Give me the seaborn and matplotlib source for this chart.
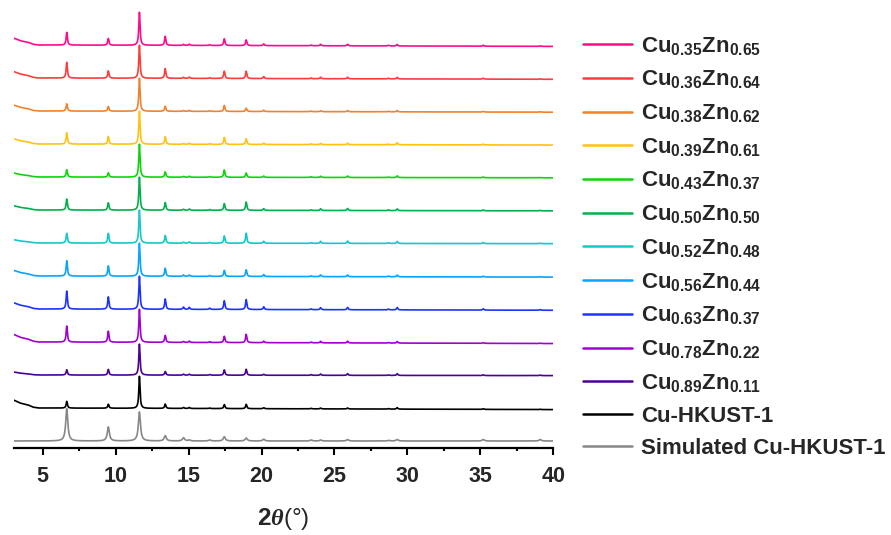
import numpy as np
import pandas as pd
import matplotlib
matplotlib.use("Agg")
import matplotlib.pyplot as plt
import seaborn as sns

# ---------------- data ----------------
labels = [
    r"$\mathbf{Cu_{0.35}Zn_{0.65}}$", r"$\mathbf{Cu_{0.36}Zn_{0.64}}$",
    r"$\mathbf{Cu_{0.38}Zn_{0.62}}$", r"$\mathbf{Cu_{0.39}Zn_{0.61}}$",
    r"$\mathbf{Cu_{0.43}Zn_{0.37}}$", r"$\mathbf{Cu_{0.50}Zn_{0.50}}$",
    r"$\mathbf{Cu_{0.52}Zn_{0.48}}$", r"$\mathbf{Cu_{0.56}Zn_{0.44}}$",
    r"$\mathbf{Cu_{0.63}Zn_{0.37}}$", r"$\mathbf{Cu_{0.78}Zn_{0.22}}$",
    r"$\mathbf{Cu_{0.89}Zn_{0.11}}$", "Cu-HKUST-1", "Simulated Cu-HKUST-1",
]
colors = ["#FF0A8C", "#FF3C3C", "#F0822D", "#FFC30F", "#0AD70A", "#00B04B",
          "#14C8C8", "#05A5FF", "#1E32FF", "#A000D2", "#4B0096", "#000000", "#878787"]

# peak positions (2theta, deg)
peak_pos = [6.65, 9.5, 11.63, 13.4, 14.65, 15.05, 16.45, 17.45, 18.95, 20.15,
            23.4, 24.05, 25.9, 28.7, 29.3, 35.2, 39.1]

# peak intensities (arb. units; 33 = one stacking step)
pk_035 = [12.7, 6.7, 33, 9.0, 1.0, 1.3, 0.7, 6.7, 5.7, 1.7, 0.7, 1.5, 1.5, 0.7, 1.5, 1.0, 0.5]
pk_036 = [15.7, 7.3, 33, 9.7, 1.0, 1.3, 0.7, 7.3, 7.3, 2.0, 0.7, 1.5, 1.5, 0.7, 1.5, 1.0, 0.5]
pk_038 = [7.3, 4.7, 33, 5.0, 0.8, 1.0, 0.7, 6.0, 3.3, 1.3, 0.5, 1.0, 1.2, 0.5, 1.3, 0.7, 0.5]
pk_039 = [11.3, 7.7, 33, 7.7, 0.8, 1.2, 0.7, 7.0, 5.7, 1.3, 0.7, 1.2, 1.5, 0.7, 2.0, 0.8, 0.5]
pk_043 = [7.3, 4.3, 33, 5.3, 0.8, 1.0, 0.7, 7.3, 4.3, 1.3, 0.7, 1.2, 1.5, 0.5, 1.7, 0.7, 0.3]
pk_050 = [11.0, 7.3, 33, 7.7, 1.0, 1.3, 0.7, 6.7, 8.3, 1.7, 0.7, 1.7, 2.0, 0.7, 1.7, 0.8, 0.5]
pk_052 = [9.7, 9.7, 33, 7.7, 1.0, 1.3, 0.8, 7.3, 10.0, 2.0, 0.7, 2.0, 2.3, 0.7, 2.0, 1.0, 0.5]
pk_056 = [15.3, 10.3, 33, 8.0, 1.3, 1.3, 0.8, 6.0, 6.7, 2.0, 0.7, 1.7, 1.7, 0.7, 1.7, 0.8, 0.5]
pk_063 = [18.0, 12.3, 33, 10.3, 2.3, 2.0, 1.3, 8.7, 10.0, 2.7, 0.8, 2.0, 2.3, 0.8, 2.3, 1.3, 0.7]
pk_078 = [16.0, 11.0, 33, 7.0, 1.0, 1.3, 0.8, 6.3, 8.3, 1.5, 0.7, 1.5, 1.7, 0.5, 1.5, 0.7, 0.3]
pk_089 = [5.3, 5.7, 31, 3.7, 1.0, 1.0, 0.7, 5.3, 6.0, 1.0, 0.7, 1.3, 1.7, 0.5, 1.7, 0.7, 0.5]
pk_hkust = [6.7, 4.0, 32, 4.3, 1.0, 1.0, 0.5, 4.0, 4.3, 1.0, 0.5, 0.8, 1.0, 0.5, 1.5, 0.7, 0.3]
pk_sim = [32.3, 14.0, 29, 5.3, 3.3, 1.0, 1.0, 4.3, 3.0, 1.7, 1.0, 1.0, 1.5, 0.5, 1.5, 1.5, 1.5]
peak_tables = [pk_035, pk_036, pk_038, pk_039, pk_043, pk_050, pk_052, pk_056,
               pk_063, pk_078, pk_089, pk_hkust, pk_sim]

# low-angle background shoulder of the measured patterns
bg_x = [3.0, 3.45, 4.0, 4.35, 4.7, 40.0]
bg_shape = [1.0, 0.62, 0.38, 0.10, 0.0, -0.2]
bg_start = [7.0, 6.5, 6.0, 5.3, 4.0, 4.3, 3.3, 5.7, 6.3, 7.7, 3.0, 8.0, 0.0]

STEP = 33.0
xgrid = np.arange(3.0, 40.001, 0.01)

frames = []
n = len(labels)
for i, (lab, pk, b0) in enumerate(zip(labels, peak_tables, bg_start)):
    offset = n - 1 - i
    hw = 0.085 if i == n - 1 else 0.05
    y = np.interp(xgrid, bg_x, np.array(bg_shape) * b0)
    for c, h in zip(peak_pos, pk):
        y = y + h / (1.0 + ((xgrid - c) / hw) ** 2)
    frames.append(pd.DataFrame({"two_theta": xgrid, "intensity": offset + y / STEP,
                                "sample": lab}))
df = pd.concat(frames, ignore_index=True)

# ---------------- plotting ----------------
sns.set_style("white")
plt.rcParams["font.family"] = ["Liberation Sans", "DejaVu Sans"]
plt.rcParams["mathtext.fontset"] = "custom"
plt.rcParams["mathtext.rm"] = "Liberation Sans"
plt.rcParams["mathtext.bf"] = "Liberation Sans:bold"
plt.rcParams["mathtext.it"] = "Liberation Serif:italic:bold"

fig = plt.figure(figsize=(8.91, 5.35), dpi=100)
ax = fig.add_axes([13.5 / 891, 87 / 535, 539.8 / 891, 438 / 535])

for lab, col in zip(labels, colors):
    sub = df[df["sample"] == lab]
    sns.lineplot(data=sub, x="two_theta", y="intensity", color=col, lw=1.2,
                 label=lab, ax=ax, sort=False, estimator=None)

ax.set_xlim(3, 40)
ax.set_ylim(-7 / STEP, 431 / STEP)
ax.set_yticks([])
ax.set_ylabel("")
for s in ["left", "right", "top"]:
    ax.spines[s].set_visible(False)
ax.spines["bottom"].set_linewidth(1.6)
ax.spines["bottom"].set_color("black")
ax.set_xticks([5, 10, 15, 20, 25, 30, 35, 40])
ax.set_xticks([7.5, 12.5, 17.5, 22.5, 27.5, 32.5, 37.5], minor=True)
ax.tick_params(axis="x", which="major", direction="out", length=5, width=1.5,
               labelsize=15.5, pad=8, bottom=True, color="black")
ax.tick_params(axis="x", which="minor", direction="out", length=2.5, width=1.5,
               bottom=True, color="black")
for t in ax.get_xticklabels():
    t.set_fontweight("bold")
ax.set_xlabel(r"$\mathbf{2}\mathit{\theta}$(°)", fontsize=17.5, labelpad=14)

handles, labs = ax.get_legend_handles_labels()
leg = ax.legend(handles, labs, loc="upper left", bbox_to_anchor=(583 / 891, 1 - 35 / 535),
                bbox_transform=fig.transFigure, frameon=False, borderpad=0,
                borderaxespad=0, handlelength=2.2, handletextpad=0.4,
                labelspacing=0.5, prop={"weight": "bold", "size": 16})
for h in leg.legend_handles:
    h.set_linewidth(1.8)

fig.savefig("out.png", dpi=100)
